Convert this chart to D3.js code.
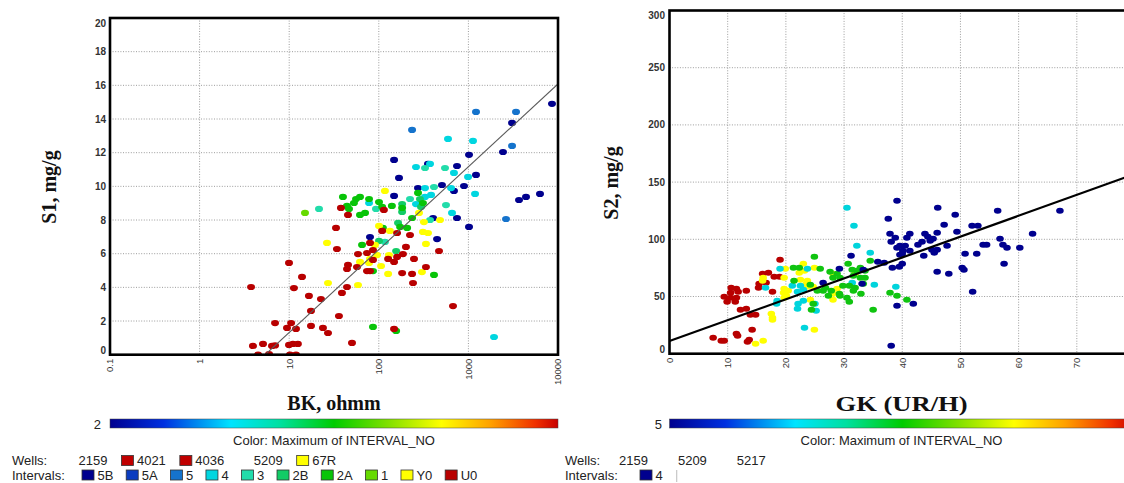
<!DOCTYPE html>
<html>
<head>
<meta charset="utf-8">
<script src="https://cdn.jsdelivr.net/npm/d3@7"></script>
<style>
  html, body { margin: 0; padding: 0; background: #fff; }
  svg { display: block; }
</style>
</head>
<body>
<svg id="chart" width="1124" height="483"></svg>
<script>
// ---------------- S1 vs BK (log) : points per interval, [BK ohmm, S1 mg/g] ----------------
const pts5B = [[8570,14.90],[3069,13.77],[2432,12.04],[1016,11.87],[148,11.57],[354,11.33],[746,11.21],
  [1216,10.68],[168,10.50],[507,10.08],[893,10.02],[274,9.90],[690,9.73],[148,9.43],[746,8.12],[403,8.12],
  [1016,7.59],[3673,9.19],[4395,9.37],[6295,9.55],[79.8,6.99],[447,6.87]];
const pts5A = [];
const pts5 = [[1216,14.42],[3400,14.42],[235,13.35],[3069,12.40],[2630,8.06]];
const pts4 = [[592,12.82],[1125,12.70],[260,11.15],[373,11.33],[690,10.80],[991,10.56],[328,9.90],[640,9.90],
  [383,9.49],[1186,9.55],[77.8,9.01],[260,8.95],[656,8.42],[1932,1.05],[328,9.37]];
const pts3 = [[328,11.09],[548,11.09],[413,9.96],[223,9.25],[21.5,8.66],[93.1,8.66],[562,8.89],[373,8.00],[117,6.70]];
const pts2B = [[288,9.25],[182,8.95],[182,8.48],[164,7.83],[156,6.16],[100.5,6.76],[296,8.78]];
const pts2A = [[274,9.61],[39.8,9.37],[55.7,9.25],[61.7,9.37],[77.8,9.25],[100.5,9.07],[311,9.01],[182,8.72],
  [140,8.84],[52.8,9.01],[44.2,8.84],[46.5,8.66],[61.7,8.30],[70.2,8.42],[109,8.78],[235,8.12],[111,7.53],
  [173,7.59],[207,7.53],[65.0,6.52],[86.1,4.97],[413,4.74],[86.1,1.65],[156,1.41]];
const pts1 = [[15.0,8.42]];
const ptsY0 = [[117,9.73],[281,8.42],[482,8.00],[319,7.88],[100.5,7.65],[133,7.35],[311,7.29],[354,7.23],
  [26.4,6.64],[90.7,6.52],[336,6.58],[95.5,5.92],[130,5.92],[61.7,5.51],[77.8,5.45],[79.8,5.69],[106,5.27],
  [303,4.91],[127,4.80],[27.1,4.26],[58.6,4.14]];
const ptsU0 = [[37.8,8.72],[45.3,8.30],[114,8.60],[33.3,7.53],[109,7.35],[160,7.23],[223,7.11],[79.8,6.64],
  [34.1,6.28],[201,6.40],[470,6.16],[58.6,5.98],[73.8,6.04],[86.1,6.22],[186,5.98],[160,5.81],[127,5.69],
  [148,5.51],[247,5.69],[9.95,5.45],[86.1,5.63],[45.3,5.33],[44.2,5.09],[57.1,5.21],[73.8,4.97],[79.8,4.97],
  [336,5.21],[182,4.85],[235,4.80],[13.9,4.62],[241,4.26],[3.75,4.02],[11.3,3.96],[44.2,4.02],[38.8,3.67],
  [16.6,3.49],[22.6,3.31],[17.5,2.60],[673,2.89],[35.9,2.30],[6.95,1.88],[10.5,1.88],[9.45,1.59],[11.9,1.53],
  [17.5,1.71],[23.8,1.59],[27.1,1.29],[148,1.53],[50.2,0.70],[3.94,0.52],[5.1,0.64],[6.43,0.52],[6.95,0.55],
  [9.95,0.58],[11.0,0.64],[12.5,0.64],[4.49,0],[5.96,0.04],[10.2,0],[11.9,0]];

const intervalNames  = ["5B","5A","5","4","3","2B","2A","1","Y0","U0"];
const intervalColors = ["#00008e","#0b3cc0","#1573cc","#00d6e0","#22dcaa","#12cc66","#08c408","#66da00","#ffff00","#b80000"];
const s1Groups = [pts5B, pts5A, pts5, pts4, pts3, pts2B, pts2A, pts1, ptsY0, ptsU0];

// regression S1 = a + b*log10(BK)
const s1FitA = -3.6, s1FitB = 4.92;
const bkFitRange = [5.4, 10000];

const bkTicks = [0.1, 1, 10, 100, 1000, 10000];
const s1Ticks = [0, 2, 4, 6, 8, 10, 12, 14, 16, 18, 20];

const wellsLeft = ["2159", "4021", "4036", "5209", "67R"];
const wellsLeftColors = [null, "#c00000", "#c00000", null, "#ffff00"];

// ---------------- S2 vs GK : points per INTERVAL_NO, [GK UR/H, S2 mg/g] ----------------
const gk9 = [[16.0,69.9],[17.0,70.8],[18.0,67.3],[18.9,67.3],[19.0,82.2],[15.4,61.2],[16.6,62.1],[15.3,57.7],
  [17.7,54.2],[10.6,57.7],[11.5,56.8],[11.8,54.2],[10.5,53.3],[13.2,55.1],[9.4,49.8],[10.5,49.0],[11.5,49.0],
  [9.9,45.5],[11.3,45.5],[12.2,38.5],[13.2,39.3],[13.9,34.1],[14.8,34.1],[14.2,21.0],[11.5,17.5],[11.7,15.7],
  [7.5,14.0],[8.9,11.4],[9.4,11.4],[13.4,10.5],[13.7,12.2]];
const gk8 = [[23.0,78.7],[19.9,74.3],[24.9,75.2],[22.3,70.8],[23.2,72.6],[28.1,69.9],[31.9,69.9],[19.7,66.4],
  [16.1,66.4],[16.0,63.8],[22.5,64.7],[23.7,63.8],[23.5,61.2],[19.7,56.8],[20.4,55.1],[19.6,53.3],[20.1,50.7],
  [23.7,58.6],[24.7,58.6],[28.8,56.8],[28.1,52.4],[28.1,47.2],[19.7,49.0],[24.2,47.2],[17.5,35.0],[17.7,31.5],
  [17.7,29.7],[24.9,21.0],[16.1,11.4],[14.8,8.7]];
const gk6 = [[30.5,127.6],[31.7,111.9],[32.2,94.4],[34.5,88.3],[19.0,74.3],[23.7,74.3],[16.5,57.7],[21.1,59.4],
  [22.5,59.4],[23.0,55.9],[22.0,54.2],[18.5,46.3],[18.4,43.7],[22.0,39.3],[22.1,43.7],[23.0,46.3],[25.2,37.6],
  [25.0,43.7],[23.2,22.7],[35.2,60.3],[38.9,58.6],[31.4,62.1]];
const gk7 = [[24.9,84.8],[34.5,81.3],[30.7,78.7],[21.3,75.2],[22.3,75.2],[25.9,74.3],[27.6,71.7],[28.8,69.9],
  [31.4,73.4],[32.2,72.6],[32.8,75.2],[33.6,72.6],[31.6,68.2],[32.8,66.4],[33.6,66.4],[28.1,66.4],[29.3,66.4],
  [21.4,63.8],[24.2,60.3],[26.8,57.7],[27.8,55.1],[29.2,52.4],[29.8,59.4],[30.9,59.4],[31.9,57.7],[33.3,61.2],
  [31.6,55.1],[32.9,52.4],[30.9,45.5],[37.9,53.3],[39.1,50.7],[40.8,47.2],[35.0,38.5],[24.4,38.5],[24.7,43.7],
  [25.4,55.1],[26.4,55.1],[30.5,49.0],[27.3,50.7],[29.3,50.7]];
const gk5 = [[39.1,133.7],[37.6,118.0],[37.9,104.9],[38.8,101.4],[38.1,97.9],[39.1,92.7],[31.2,85.7],[35.8,80.4],
  [36.9,79.5],[39.6,86.5],[38.3,75.2],[39.5,76.0],[29.2,74.3],[26.4,62.1],[33.3,73.4],[39.1,42.0],[38.1,7.0],
  [46.1,127.6],[56.4,125.0],[67.1,125.0],[49.1,121.5],[47.2,112.8],[52.0,111.9],[53.0,111.9],[41.3,104.9],
  [40.8,101.4],[43.9,104.9],[44.4,102.3],[45.3,100.5],[46.0,105.8],[49.4,106.6],[62.4,104.9],[56.8,100.5],
  [57.3,95.3],[58.0,92.7],[60.2,92.7],[53.9,95.3],[54.5,95.3],[39.6,94.4],[40.5,94.4],[41.3,90.0],[40.1,90.0],
  [40.0,87.4],[42.7,95.3],[43.4,97.9],[44.8,98.8],[45.1,90.9],[45.5,88.3],[46.0,90.9],[47.7,94.4],[43.7,85.7],
  [50.8,87.4],[52.8,87.4],[40.0,78.7],[57.5,78.7],[50.3,75.2],[50.6,73.4],[46.0,71.7],[48.0,69.9],[52.1,54.2],
  [41.9,43.7],[33.1,61.2]];

const s2Groups = [gk9, gk8, gk6, gk7, gk5];
const s2Colors = ["#b80000", "#ffff00", "#00d4dc", "#10c410", "#00008e"];

// regression S2 = a + b*GK
const s2FitA = 11.1, s2FitB = 1.825;

const gkTicks = [0, 10, 20, 30, 40, 50, 60, 70, 80];
const s2Ticks = [0, 50, 100, 150, 200, 250, 300];

const wellsRight = ["2159", "5209", "5217"];
const intervalsRight = ["4"];
const intervalsRightColors = ["#00008e"];

// colour ramp of INTERVAL_NO
const rampStops = [
  [0, "#00008f"], [0.12, "#0030e0"], [0.27, "#00e4ff"], [0.38, "#00e0a0"], [0.5, "#00cc00"],
  [0.62, "#80e000"], [0.74, "#ffff00"], [0.85, "#ffa000"], [0.95, "#f03000"], [1, "#c80000"]
];

// ---------------- drawing ----------------
const svg = d3.select("#chart");
const W = 1124, H = 483;
svg.append("rect").attr("width", W).attr("height", H).attr("fill", "#fff");

const sansFont = "'Liberation Sans', Arial, sans-serif";
const serifFont = "'Liberation Serif', 'Times New Roman', serif";

const defs = svg.append("defs");
const grad = defs.append("linearGradient").attr("id", "ramp").attr("x1", "0%").attr("x2", "100%");
grad.selectAll("stop").data(rampStops).join("stop")
  .attr("offset", d => d[0]).attr("stop-color", d => d[1]);

function drawFrame(g, x0, x1, y0, y1) {
  g.append("rect").attr("x", x0).attr("y", y0).attr("width", x1 - x0).attr("height", y1 - y0)
    .attr("fill", "none").attr("stroke", "#000").attr("stroke-width", 2.6);
}

function gridStyle(sel) {
  sel.attr("stroke", "#9c9c9c").attr("stroke-width", 1).attr("stroke-dasharray", "1,1.6");
}

// ===== Left panel =====
const L = { x0: 110, x1: 558, y0: 18, y1: 354.7 };
const xL = d3.scaleLog().domain([0.1, 10000]).range([L.x0, L.x1]);
const yL = d3.scaleLinear().domain([0, 20]).range([L.y1, L.y0]);

const gL = svg.append("g");
defs.append("clipPath").attr("id", "clipL").append("rect")
  .attr("x", L.x0).attr("y", L.y0 - 4).attr("width", L.x1 - L.x0).attr("height", L.y1 - L.y0 + 4);

gL.append("g").selectAll("line").data(bkTicks.slice(1, -1)).join("line")
  .attr("x1", d => xL(d)).attr("x2", d => xL(d)).attr("y1", L.y0).attr("y2", L.y1).call(gridStyle);
gL.append("g").selectAll("line").data(s1Ticks.slice(1, -1)).join("line")
  .attr("y1", d => yL(d)).attr("y2", d => yL(d)).attr("x1", L.x0).attr("x2", L.x1).call(gridStyle);

const dotsL = gL.append("g").attr("clip-path", "url(#clipL)");
s1Groups.forEach((pts, i) => {
  dotsL.append("g").selectAll("ellipse").data(pts).join("ellipse")
    .attr("cx", d => xL(d[0])).attr("cy", d => yL(d[1]))
    .attr("rx", 4).attr("ry", 3.1).attr("fill", intervalColors[i]);
});

const fitL = d3.line().x(d => xL(d)).y(d => yL(s1FitA + s1FitB * Math.log10(d)));
gL.append("path").attr("clip-path", "url(#clipL)")
  .attr("d", fitL(bkFitRange)).attr("fill", "none").attr("stroke", "#5a5a5a").attr("stroke-width", 1.1);

drawFrame(gL, L.x0, L.x1, L.y0, L.y1);

gL.append("g").selectAll("text").data(s1Ticks).join("text")
  .attr("x", L.x0 - 4)
  .attr("y", d => Math.min(Math.max(yL(d), L.y0 + 5), L.y1 - 4.5))
  .attr("dy", "0.35em").attr("text-anchor", "end")
  .attr("font-family", sansFont).attr("font-size", 10).attr("font-weight", "bold").attr("fill", "#333")
  .text(d => d);

const fmtBk = d => d < 1 ? String(d) : d3.format("d")(d);
gL.append("g").selectAll("text").data(bkTicks).join("text")
  .attr("transform", d => `translate(${xL(d)},${L.y1 + 4}) rotate(-90)`)
  .attr("dy", "0.35em").attr("text-anchor", "end")
  .attr("font-family", sansFont).attr("font-size", 9.5).attr("fill", "#333")
  .text(fmtBk);

gL.append("text").attr("transform", "translate(56,187) rotate(-90)")
  .attr("text-anchor", "middle").attr("font-family", serifFont).attr("font-weight", "bold")
  .attr("font-size", 20).attr("fill", "#111").text("S1, mg/g");

gL.append("text").attr("x", (L.x0 + L.x1) / 2).attr("y", 410)
  .attr("text-anchor", "middle").attr("font-family", serifFont).attr("font-weight", "bold")
  .attr("font-size", 20).attr("fill", "#111").text("BK, ohmm");

// colour bar
gL.append("rect").attr("x", L.x0).attr("y", 419).attr("width", L.x1 - L.x0).attr("height", 9)
  .attr("fill", "url(#ramp)").attr("stroke", "#444").attr("stroke-width", 0.5);
gL.append("text").attr("x", 101).attr("y", 424).attr("dy", "0.35em").attr("text-anchor", "end")
  .attr("font-family", sansFont).attr("font-size", 13).attr("fill", "#222").text("2");
gL.append("text").attr("x", (L.x0 + L.x1) / 2).attr("y", 445).attr("text-anchor", "middle")
  .attr("font-family", sansFont).attr("font-size", 13).attr("fill", "#222")
  .text("Color: Maximum of INTERVAL_NO");

// legend rows (y is the text baseline)
function legendRow(g, label, labelX, startX, names, colors, y, gap) {
  g.append("text").attr("x", labelX).attr("y", y)
    .attr("font-family", sansFont).attr("font-size", 13).attr("fill", "#222").text(label);
  let cx = startX;
  names.forEach((n, i) => {
    if (colors[i]) {
      g.append("rect").attr("x", cx).attr("y", y - 9.5).attr("width", 12).attr("height", 10)
        .attr("fill", colors[i]).attr("stroke", "#333").attr("stroke-width", 0.8);
    }
    const t = g.append("text").attr("x", cx + 15.5).attr("y", y)
      .attr("font-family", sansFont).attr("font-size", 13).attr("fill", "#222").text(n);
    cx = cx + 15.5 + t.node().getComputedTextLength() + gap;
  });
  return cx;
}
legendRow(gL, "Wells:", 12, 63, wellsLeft, wellsLeftColors, 465, 14);
legendRow(gL, "Intervals:", 12, 82, intervalNames, intervalColors, 479.5, 12.8);

// ===== Right panel =====
const R = { x0: 669.5, x1: 1135, y0: 10.5, y1: 353.7 };
const xR = d3.scaleLinear().domain([0, 80]).range([R.x0, R.x1]);
const yR = d3.scaleLinear().domain([0, 300]).range([R.y1, R.y0]);

const gR = svg.append("g");
defs.append("clipPath").attr("id", "clipR").append("rect")
  .attr("x", R.x0).attr("y", R.y0).attr("width", R.x1 - R.x0).attr("height", R.y1 - R.y0 + 3);

gR.append("g").selectAll("line").data(gkTicks.slice(1, -1)).join("line")
  .attr("x1", d => xR(d)).attr("x2", d => xR(d)).attr("y1", R.y0).attr("y2", R.y1).call(gridStyle);
gR.append("g").selectAll("line").data(s2Ticks.slice(1, -1)).join("line")
  .attr("y1", d => yR(d)).attr("y2", d => yR(d)).attr("x1", R.x0).attr("x2", R.x1).call(gridStyle);

const dotsR = gR.append("g").attr("clip-path", "url(#clipR)");
s2Groups.forEach((pts, i) => {
  dotsR.append("g").selectAll("ellipse").data(pts).join("ellipse")
    .attr("cx", d => xR(d[0])).attr("cy", d => yR(d[1]))
    .attr("rx", 3.8).attr("ry", 3.0).attr("fill", s2Colors[i]);
});

const fitR = d3.line().x(d => xR(d)).y(d => yR(s2FitA + s2FitB * d));
gR.append("path").attr("clip-path", "url(#clipR)")
  .attr("d", fitR([0, 80])).attr("fill", "none").attr("stroke", "#000").attr("stroke-width", 2.2);

drawFrame(gR, R.x0, R.x1, R.y0, R.y1);

gR.append("g").selectAll("text").data(s2Ticks).join("text")
  .attr("x", R.x0 - 4.5)
  .attr("y", d => Math.min(Math.max(yR(d), R.y0 + 4.5), R.y1 - 4))
  .attr("dy", "0.35em").attr("text-anchor", "end")
  .attr("font-family", sansFont).attr("font-size", 10).attr("font-weight", "bold").attr("fill", "#333")
  .text(d => d);

gR.append("g").selectAll("text").data(gkTicks).join("text")
  .attr("transform", d => `translate(${xR(d)},${R.y1 + 4}) rotate(-90)`)
  .attr("dy", "0.35em").attr("text-anchor", "end")
  .attr("font-family", sansFont).attr("font-size", 9.5).attr("fill", "#333")
  .text(d => d);

gR.append("text").attr("transform", "translate(618,183) rotate(-90)")
  .attr("text-anchor", "middle").attr("font-family", serifFont).attr("font-weight", "bold")
  .attr("font-size", 20).attr("fill", "#111").text("S2, mg/g");

gR.append("text").attr("x", 901.5).attr("y", 411)
  .attr("text-anchor", "middle").attr("font-family", serifFont).attr("font-weight", "bold")
  .attr("font-size", 21).attr("fill", "#111")
  .attr("textLength", 132).attr("lengthAdjust", "spacingAndGlyphs").text("GK (UR/H)");

gR.append("rect").attr("x", R.x0).attr("y", 419).attr("width", R.x1 - R.x0).attr("height", 9)
  .attr("fill", "url(#ramp)").attr("stroke", "#444").attr("stroke-width", 0.5);
gR.append("text").attr("x", 662).attr("y", 424).attr("dy", "0.35em").attr("text-anchor", "end")
  .attr("font-family", sansFont).attr("font-size", 13).attr("fill", "#222").text("5");
gR.append("text").attr("x", 901.5).attr("y", 445).attr("text-anchor", "middle")
  .attr("font-family", sansFont).attr("font-size", 13).attr("fill", "#222")
  .text("Color: Maximum of INTERVAL_NO");

legendRow(gR, "Wells:", 565, 603.5, wellsRight, wellsRight.map(() => null), 465, 14.5);
const endX = legendRow(gR, "Intervals:", 565, 640, intervalsRight, intervalsRightColors, 479.5, 13);
gR.append("line").attr("x1", endX + 1).attr("x2", endX + 1).attr("y1", 470).attr("y2", 482)
  .attr("stroke", "#bbb").attr("stroke-width", 1);
</script>
</body>
</html>
